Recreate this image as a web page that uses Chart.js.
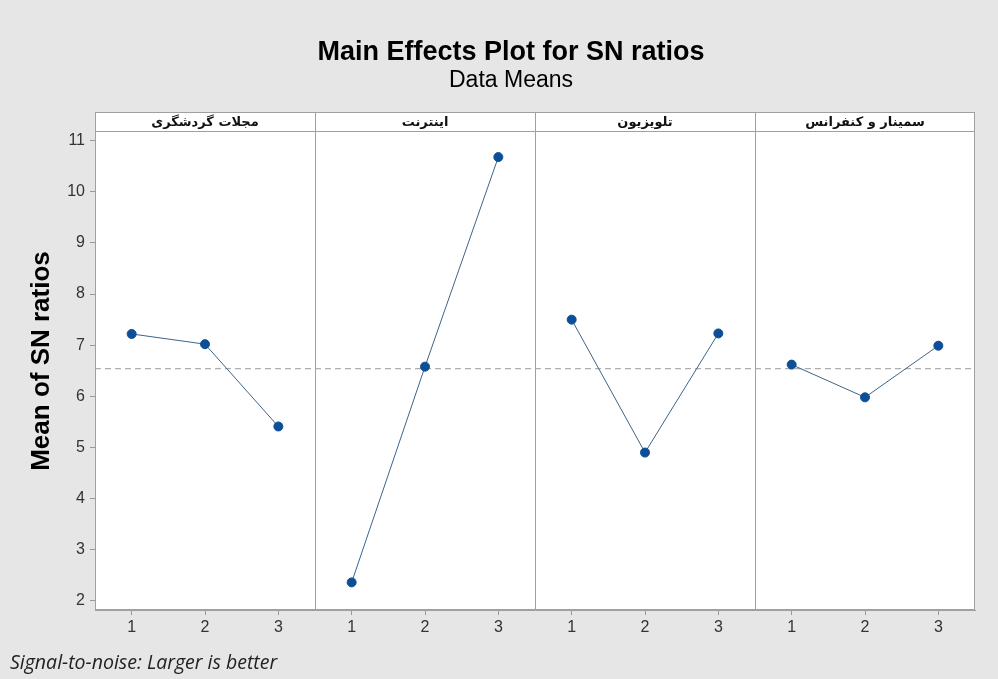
<!DOCTYPE html>
<html>
<head>
<meta charset="utf-8">
<script src="https://cdn.jsdelivr.net/npm/chart.js@4.4.1/dist/chart.umd.min.js"></script>
<style>
  html, body { margin: 0; padding: 0; background: #e6e6e6; }
  #wrap { width: 998px; height: 679px; }
</style>
</head>
<body>
<div id="wrap"><canvas id="c" width="998" height="679"></canvas></div>
<script>
// ---- data ----
const factorNames = ['مجلات گردشگری', 'اینترنت', 'تلویزیون', 'سمینار و کنفرانس'];
const levels = [1, 2, 3];
const magazineMeans = [7.22, 7.02, 5.41];
const internetMeans = [2.36, 6.58, 10.68];
const televisionMeans = [7.50, 4.90, 7.23];
const seminarMeans = [6.62, 5.98, 6.99];
const overallMean = 6.54;
const yTickValues = [2, 3, 4, 5, 6, 7, 8, 9, 10, 11];
const xTickLabels = ['1', '2', '3'];
const yAxisTitle = 'Mean of SN ratios';
const footnote = 'Signal-to-noise: Larger is better';

const factorSeries = [magazineMeans, internetMeans, televisionMeans, seminarMeans];
const nLevels = levels.length;

// position of a (factor, level) pair on the shared x scale
const xPos = (f, lvl) => f * nLevels + lvl;

const panelDatasets = factorSeries.map((vals, f) => ({
  label: factorNames[f],
  data: vals.map((v, i) => ({ x: xPos(f, levels[i]), y: v })),
  borderColor: '#3d6489',
  borderWidth: 1,
  backgroundColor: '#0d4f96',
  pointBackgroundColor: '#0d4f96',
  pointBorderColor: '#0d4f96',
  pointRadius: 4.5,
  pointHoverRadius: 4.5,
  tension: 0,
  order: 1
}));

const xMin = 0.5, xMax = factorNames.length * nLevels + 0.5;

const meanDataset = {
  label: 'mean',
  data: [{ x: xMin, y: overallMean }, { x: xMax, y: overallMean }],
  borderColor: '#9a9a9a',
  borderWidth: 1,
  borderDash: [6, 4],
  pointRadius: 0,
  order: 5
};

const panelPlugin = {
  id: 'panels',
  beforeDraw(chart) {
    const { ctx, chartArea: a } = chart;
    ctx.save();
    ctx.fillStyle = '#e6e6e6';
    ctx.fillRect(0, 0, chart.width, chart.height);
    ctx.fillStyle = '#ffffff';
    ctx.fillRect(a.left, a.top, a.right - a.left, a.bottom - a.top);
    ctx.restore();
  },
  afterDraw(chart) {
    const { ctx, chartArea: a, scales } = chart;
    const xs = scales.x;
    const headerH = 19;
    ctx.save();
    // header strip
    ctx.fillStyle = '#ffffff';
    ctx.fillRect(a.left, a.top - headerH, a.right - a.left, headerH);
    ctx.strokeStyle = '#a0a0a0';
    ctx.lineWidth = 1;
    ctx.strokeRect(a.left + 0.5, a.top - headerH + 0.5, a.right - a.left - 1, headerH);
    // plot frame
    ctx.strokeRect(a.left + 0.5, a.top + 0.5, a.right - a.left - 1, a.bottom - a.top - 1);
    // panel dividers
    for (let f = 1; f < factorNames.length; f++) {
      const x = Math.round(xs.getPixelForValue(f * nLevels + 0.5)) + 0.5;
      ctx.beginPath();
      ctx.moveTo(x, a.top - headerH);
      ctx.lineTo(x, a.bottom);
      ctx.stroke();
    }
    // header labels
    ctx.fillStyle = '#111';
    ctx.font = 'bold 13px "DejaVu Sans"';
    ctx.textAlign = 'center';
    ctx.textBaseline = 'middle';
    factorNames.forEach((name, f) => {
      const cx = xs.getPixelForValue(f * nLevels + 2);
      ctx.fillText(name, cx, a.top - headerH / 2 + 1);
    });
    // y axis title, centred on the panel block incl. header strip
    ctx.save();
    ctx.translate(42, (a.top - headerH + a.bottom) / 2);
    ctx.rotate(-Math.PI / 2);
    ctx.font = 'bold 26px "Liberation Sans", Arial';
    ctx.fillStyle = '#000';
    ctx.textAlign = 'center';
    ctx.textBaseline = 'middle';
    ctx.fillText(yAxisTitle, 0, 0);
    ctx.restore();
    // footnote
    ctx.textAlign = 'left';
    ctx.textBaseline = 'middle';
    ctx.font = 'italic 19.5px "Open Sans"';
    ctx.fillStyle = '#222';
    ctx.fillText(footnote, 10, 663);
    ctx.restore();
  }
};

new Chart(document.getElementById('c'), {
  type: 'line',
  data: { datasets: [...panelDatasets, meanDataset] },
  plugins: [panelPlugin],
  options: {
    responsive: false,
    animation: false,
    layout: { padding: { top: 0, left: 47, right: 23, bottom: 39 } },
    plugins: {
      legend: { display: false },
      tooltip: { enabled: false },
      title: {
        display: true,
        text: 'Main Effects Plot for SN ratios',
        color: '#000',
        font: { family: '"Liberation Sans", Arial', size: 27, weight: 'bold', lineHeight: 1.1 },
        padding: { top: 38, bottom: 0 }
      },
      subtitle: {
        display: true,
        text: 'Data Means',
        color: '#000',
        font: { family: '"Liberation Sans", Arial', size: 23, weight: 'normal', lineHeight: 1.1 },
        padding: { top: 0, bottom: 38 }
      }
    },
    scales: {
      x: {
        type: 'linear',
        min: xMin,
        max: xMax,
        afterBuildTicks(scale) {
          const t = [];
          factorNames.forEach((_, f) => levels.forEach(l => t.push({ value: xPos(f, l) })));
          scale.ticks = t;
        },
        afterFit(scale) { scale.height = 30; },
        ticks: {
          color: '#333',
          font: { family: '"Liberation Sans", Arial', size: 16 },
          padding: 3,
          maxRotation: 0,
          autoSkip: false,
          callback: (v) => xTickLabels[(Math.round(v) - 1) % nLevels]
        },
        grid: { display: true, drawOnChartArea: false, drawTicks: true, tickLength: 5, color: '#999' },
        border: { display: true, color: '#a0a0a0' }
      },
      y: {
        type: 'linear',
        min: 1.82,
        max: 11.19,
        afterBuildTicks(scale) { scale.ticks = yTickValues.map(v => ({ value: v })); },
        afterFit(scale) { scale.width = 48; },
        ticks: {
          color: '#333',
          font: { family: '"Liberation Sans", Arial', size: 16 },
          padding: 5
        },
        grid: { display: true, drawOnChartArea: false, drawTicks: true, tickLength: 5, color: '#999' },
        border: { display: true, color: '#a0a0a0' }
      }
    }
  }
});
</script>
</body>
</html>
